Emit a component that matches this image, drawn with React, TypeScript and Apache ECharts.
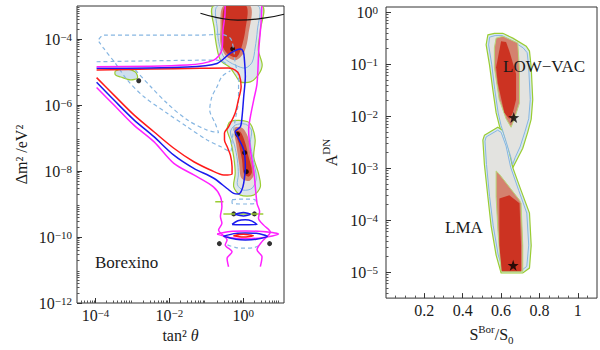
import React, { useEffect, useRef } from 'react';
import * as echarts from 'echarts';

// ---------- Left panel (values are log10): x = log10(tan²θ), y = log10(Δm²/eV²)
const leftXLabels = [-4, -2, 0];
const leftYLabels = [-12, -10, -8, -6, -4];

const redContour = [[-3.97,-5.17],[-3.5,-5.7],[-2.96,-6.3],[-2.42,-6.81],[-1.88,-7.31],[-1.34,-7.72],[-0.89,-7.97],[-0.53,-8.12],[-0.305,-8.09],[-0.305,-7.87],[-0.35,-7.52],[-0.44,-7.26],[-0.51,-7.06],[-0.51,-6.85],[-0.405,-6.67],[-0.22,-6.24],[-0.135,-5.85],[-0.06,-5.44],[-0.11,-5.09],[-0.22,-4.94],[-0.405,-4.88],[-1.16,-4.89],[-2.51,-4.91],[-3.97,-4.94]];
const blueContour = [[-3.97,-5.31],[-3.5,-5.85],[-2.96,-6.45],[-2.42,-6.96],[-1.88,-7.52],[-1.34,-7.92],[-0.8,-8.22],[-0.44,-8.53],[-0.26,-8.68],[-0.13,-8.7],[-0.05,-8.6],[0.01,-8.37],[0.054,-7.87],[0.01,-7.36],[-0.154,-6.96],[-0.22,-6.81],[-0.08,-6.66],[-0.035,-6.36],[0.01,-5.75],[0.054,-5.14],[0.03,-4.64],[0,-4.39],[-0.08,-4.3],[-0.35,-4.43],[-0.71,-4.74],[-1.52,-4.85],[-3.97,-4.89]];
const magentaTop = [[-0.49,-3.0],[-0.5,-3.3],[-0.55,-3.73],[-0.58,-4.33],[-0.8,-4.64],[-1.52,-4.79],[-3.97,-4.84]];
const magentaLower = [[-3.97,-5.47],[-3.5,-6.0],[-2.96,-6.61],[-2.42,-7.11],[-1.88,-7.77],[-1.34,-8.12],[-0.81,-8.48],[-0.62,-8.78],[-0.58,-9.08],[-0.62,-9.38],[-0.58,-9.58],[-0.67,-9.79],[-0.44,-10.09],[-0.49,-10.24],[-0.305,-10.45],[-0.44,-10.65],[-0.4,-10.9]];
const magentaRight = [[0.5,-3.0],[0.48,-3.5],[0.42,-4.3],[0.37,-5.35],[0.28,-5.85],[0.19,-6.36],[0.143,-6.76],[0.19,-7.36],[0.28,-7.97],[0.37,-8.98],[0.44,-9.23],[0.41,-9.43],[0.55,-9.64],[0.73,-9.85],[0.505,-10.14],[0.37,-10.39],[0.505,-10.6],[0.46,-10.9]];
const magentaRing = [[-0.71,-9.91],[-0.35,-9.83],[0.054,-9.82],[0.51,-9.83],[0.95,-9.91],[0.51,-10.02],[0.054,-10.05],[-0.35,-10.02],[-0.71,-9.91]];
const blueRing1 = [[-0.54,-9.98],[-0.2,-9.89],[0.054,-9.88],[0.35,-9.89],[0.65,-9.98],[0.35,-10.07],[0.054,-10.09],[-0.2,-10.07],[-0.54,-9.98]];
const blueRing2 = [[-0.305,-9.62],[-0.15,-9.51],[0.054,-9.48],[0.22,-9.51],[0.37,-9.62],[0.054,-9.63],[-0.305,-9.62]];
const blueRing3 = [[-0.22,-9.31],[0,-9.26],[0.19,-9.31],[0,-9.36],[-0.22,-9.31]];
const redRing = [[-0.27,-9.96],[0,-9.92],[0.27,-9.96],[0,-10.0],[-0.27,-9.96]];
const dashedOuter = [[-3.91,-4.01],[-3.78,-3.88],[-2.51,-3.88],[-1.16,-3.88],[-0.62,-3.86],[-0.35,-3.98],[-0.26,-4.33],[-0.22,-4.74],[-0.13,-5.14],[-0.13,-5.85],[-0.22,-6.45],[-0.305,-7.06],[-0.35,-7.41],[-0.62,-7.26],[-0.98,-7.06],[-1.52,-6.66],[-2.06,-6.25],[-2.69,-5.75],[-3.14,-5.24],[-3.46,-4.74],[-3.78,-4.28],[-3.91,-4.08]];
const dashedInner = [[-2.92,-4.94],[-2.51,-5.44],[-2.06,-5.95],[-1.52,-6.45],[-0.98,-6.76],[-0.67,-6.84],[-0.76,-6.56],[-0.91,-6.15],[-0.85,-5.75],[-0.71,-5.44],[-0.58,-5.14],[-0.35,-4.96]];
const dashedFlat = [[-3.97,-4.69],[-0.71,-4.64],[-0.44,-4.76]];
const dashedRing = [[-0.305,-8.87],[0,-8.85],[0.32,-8.87],[0.32,-8.98],[0,-9.0],[-0.305,-8.98],[-0.305,-8.87]];
const dashedBottom = [[-0.43,-10.24],[-0.2,-10.32],[0.054,-10.34],[0.3,-10.32],[0.46,-10.24]];
const greenBar1 = [[-0.54,-9.3],[0.54,-9.3]];
const greenBar2 = [[-0.76,-8.93],[-0.54,-8.93]];
const blackArc = [[-1.16,-3.22],[-0.71,-3.35],[-0.15,-3.43],[0.55,-3.37],[1.1,-3.25]];
const bestFitDots = [[-0.289,-4.303],[-2.83,-5.264],[-0.154,-6.888],[0.035,-7.445],[0.081,-8.021],[-0.26,-9.3],[0.3,-9.3],[-0.649,-10.2],[0.711,-10.2]];

const upperOuter = [[-0.81,-3.0],[-0.78,-3.73],[-0.73,-4.18],[-0.62,-4.64],[-0.35,-4.88],[-0.22,-5.09],[-0.08,-5.3],[0.19,-5.3],[0.405,-5.09],[0.51,-4.79],[0.405,-4.33],[0.46,-3.73],[0.51,-3.0]];
const upperGray = [[-0.7,-3.0],[-0.7,-3.73],[-0.65,-4.18],[-0.51,-4.58],[-0.22,-4.79],[0.054,-4.88],[0.24,-4.7],[0.32,-4.27],[0.38,-3.73],[0.405,-3.0]];
const upperSalmon = [[-0.54,-3.0],[-0.62,-3.73],[-0.61,-4.18],[-0.46,-4.52],[-0.19,-4.64],[0.027,-4.39],[0.135,-3.88],[0.19,-3.0]];
const upperRed = [[-0.49,-3.0],[-0.57,-3.73],[-0.57,-4.18],[-0.43,-4.45],[-0.19,-4.55],[-0.054,-4.27],[0.054,-3.73],[0.08,-3.0]];
const lowerOuter = [[-0.35,-6.5],[-0.44,-6.76],[-0.35,-7.06],[-0.26,-7.57],[-0.22,-8.07],[-0.26,-8.48],[-0.08,-8.73],[0.28,-8.73],[0.46,-8.48],[0.41,-8.07],[0.28,-7.57],[0.32,-7.06],[0.235,-6.66],[0.1,-6.5]];
const lowerGray = [[-0.22,-6.61],[-0.35,-6.82],[-0.24,-7.21],[-0.16,-7.67],[-0.135,-8.12],[-0.16,-8.42],[0,-8.58],[0.24,-8.52],[0.35,-8.21],[0.27,-7.67],[0.19,-7.15],[0.22,-6.76],[0.054,-6.58]];
const lowerSalmon = [[-0.24,-6.7],[-0.19,-7.21],[-0.11,-7.82],[-0.054,-8.21],[0.16,-8.3],[0.3,-8.06],[0.19,-7.52],[0.135,-7.0],[-0.027,-6.7]];
const lowerRed = [[-0.22,-6.81],[-0.127,-7.16],[-0.035,-7.67],[0.01,-8.07],[0.143,-8.17],[0.235,-8.02],[0.143,-7.57],[0.054,-7.16],[-0.08,-6.81]];
const smallBlob = [[-3.46,-4.97],[-3.19,-4.91],[-2.92,-5.0],[-2.865,-5.18],[-3.05,-5.24],[-3.32,-5.15],[-3.46,-5.09]];

// ---------- Right panel: x = S^Bor/S0, y = log10(A^DN)
const rightXLabels = [0.2, 0.4, 0.6, 0.8, 1];
const rightYLabels = [-5, -4, -3, -2, -1, 0];
const lowVacOuter = [[0.531,-0.437],[0.565,-0.406],[0.609,-0.406],[0.661,-0.499],[0.731,-0.654],[0.748,-0.748],[0.757,-1.06],[0.765,-1.682],[0.757,-2.056],[0.739,-2.307],[0.713,-2.617],[0.687,-2.804],[0.661,-2.99],[0.643,-2.804],[0.617,-2.493],[0.591,-2.181],[0.574,-1.933],[0.557,-1.495],[0.539,-0.998],[0.522,-0.624]];
const lowVacInner = [[0.54,-0.48],[0.569,-0.45],[0.605,-0.45],[0.652,-0.54],[0.715,-0.686],[0.736,-0.78],[0.744,-1.06],[0.752,-1.68],[0.744,-2.05],[0.725,-2.29],[0.699,-2.59],[0.673,-2.8],[0.66,-2.93],[0.65,-2.78],[0.627,-2.5],[0.6,-2.18],[0.585,-1.94],[0.567,-1.49],[0.551,-1.0],[0.535,-0.63]];
const lowVacSalmon = [[0.574,-0.499],[0.61,-0.462],[0.687,-0.593],[0.696,-1.116],[0.696,-1.746],[0.669,-2.056],[0.652,-2.213],[0.626,-2.05],[0.59,-1.677],[0.565,-1.06],[0.565,-0.686]];
const lowVacRed = [[0.574,-1.06],[0.6,-0.561],[0.626,-0.574],[0.643,-0.748],[0.678,-1.185],[0.678,-1.682],[0.661,-1.933],[0.643,-2.056],[0.617,-1.933],[0.583,-1.372]];
const lmaOuter = [[0.513,-2.368],[0.583,-2.213],[0.609,-2.275],[0.635,-2.555],[0.661,-2.99],[0.704,-3.428],[0.748,-3.864],[0.757,-4.486],[0.748,-4.923],[0.713,-5.017],[0.6,-5.017],[0.574,-4.673],[0.548,-4.112],[0.531,-3.551],[0.513,-2.929],[0.505,-2.462]];
const lmaInner = [[0.522,-2.4],[0.582,-2.27],[0.6,-2.31],[0.626,-2.575],[0.65,-2.985],[0.692,-3.43],[0.734,-3.864],[0.744,-4.48],[0.734,-4.89],[0.704,-4.975],[0.612,-4.975],[0.585,-4.67],[0.559,-4.11],[0.54,-3.546],[0.524,-2.93],[0.516,-2.48]];
const lmaSalmon = [[0.574,-3.054],[0.591,-3.116],[0.696,-3.615],[0.704,-3.677],[0.713,-4.486],[0.713,-4.985],[0.6,-4.985],[0.583,-4.176],[0.574,-3.551]];
const lmaRed = [[0.591,-3.583],[0.643,-3.521],[0.696,-3.677],[0.704,-4.486],[0.704,-4.985],[0.604,-4.985],[0.591,-4.486]];
const stars = [[0.666,-2.026],[0.663,-4.87]];

const FONT = 'Liberation Serif';
const TXT = '#1a1a1a';
const STAR = 'path://M0,-10L2.35,-3.24L9.51,-3.09L3.8,1.24L5.88,8.09L0,4L-5.88,8.09L-3.8,1.24L-9.51,-3.09L-2.35,-3.24Z';

function logMinor(from: number, to: number) {
  const out: number[] = [];
  for (let n = Math.floor(from); n < to; n++) {
    for (let k = 2; k <= 9; k++) {
      const v = n + Math.log10(k);
      if (v > from && v < to) out.push(v);
    }
  }
  return out;
}

const powRich = {
  b: { fontSize: 16, fontFamily: FONT, color: TXT, lineHeight: 16, verticalAlign: 'bottom', padding: [4, 0, 0, 0] },
  s: { fontSize: 11, fontFamily: FONT, color: TXT, lineHeight: 11, verticalAlign: 'top' },
};
const powFmt = (v: number) => {
  const r = Math.round(v);
  return '{b|10}{s|' + (r < 0 ? '\u2212' + -r : String(r)) + '}';
};

function poly(pts: number[][], gi: number, style: any, smooth = 0) {
  return {
    type: 'custom', xAxisIndex: gi * 2, yAxisIndex: gi * 2, clip: true, silent: true,
    data: pts,
    renderItem: (params: any, api: any) => {
      if (params.dataIndex !== 0) return null;
      return { type: 'polygon', shape: { points: pts.map((p) => api.coord(p)), smooth }, style };
    },
  };
}
function line(pts: number[][], color: string, width: number, dashed = false, smooth = 0.3) {
  return {
    type: 'line', xAxisIndex: 0, yAxisIndex: 0, data: pts, symbol: 'none', smooth, silent: true, clip: true,
    lineStyle: { color, width, type: dashed ? [4, 3] : 'solid' },
  };
}

function mainAxis(gi: number, min: number, max: number, labels: number[], isX: boolean, fmt: any, extra: any) {
  return {
    type: 'value', gridIndex: gi, min, max,
    position: isX ? 'bottom' : 'left',
    axisLine: { show: false, onZero: false }, splitLine: { show: false },
    axisTick: { show: true, inside: true, length: 5, customValues: labels, lineStyle: { color: '#333' } },
    axisLabel: { customValues: labels, formatter: fmt, rich: powRich, color: TXT, fontFamily: FONT, fontSize: 16, margin: isX ? 4 : 5 },
    ...extra,
  };
}
function minorAxis(gi: number, min: number, max: number, ticks: number[], isX: boolean) {
  return {
    type: 'value', gridIndex: gi, min, max, position: isX ? 'bottom' : 'left',
    axisLine: { show: false, onZero: false }, splitLine: { show: false }, axisLabel: { show: false },
    axisTick: { show: true, inside: true, length: 2.5, customValues: ticks, lineStyle: { color: '#555' } },
  };
}

export default function App() {
  const ref = useRef<HTMLDivElement>(null);
  useEffect(() => {
    document.body.style.margin = '0';
    const chart = echarts.init(ref.current!, undefined, { renderer: 'svg' });
    const green = '#9acd32';
    const lblue = '#86b6e2';
    const grayFill = '#e3e3e0';
    const salmon = '#d4826f';
    const red = '#cc3322';
    const rightMinorX: number[] = [];
    for (let i = 1; i < 22; i++) { const v = i * 0.05; if (Math.abs(v * 5 - Math.round(v * 5)) > 1e-6) rightMinorX.push(v); }
    const option: any = {
      animation: false,
      textStyle: { fontFamily: FONT },
      grid: [
        { left: 77, right: 316, top: 6, bottom: 47, show: true, borderColor: '#333', borderWidth: 1, backgroundColor: 'transparent' },
        { left: 386, right: 3, top: 7, bottom: 42, show: true, borderColor: '#333', borderWidth: 1, backgroundColor: 'transparent' },
      ],
      xAxis: [
        mainAxis(0, -4.5, 1.1, leftXLabels, true, powFmt, {
          name: 'tan\u00b2 {i|\u03b8}', nameLocation: 'middle', nameGap: 18,
          nameTextStyle: { fontFamily: FONT, fontSize: 16, color: TXT, rich: { i: { fontStyle: 'italic', fontFamily: FONT, fontSize: 16, color: TXT } } },
        }),
        minorAxis(0, -4.5, 1.1, logMinor(-4.5, 1.1), true),
        mainAxis(1, 0, 1.1, rightXLabels, true, (v: number) => String(Number(v.toFixed(1))), {
          axisLabel: { customValues: rightXLabels, formatter: (v: number) => String(Number(v.toFixed(1))), color: TXT, fontFamily: FONT, fontSize: 16, margin: 4 },
          name: 'S{s|Bor}/S{d|0}', nameLocation: 'middle', nameGap: 17,
          nameTextStyle: { fontFamily: FONT, fontSize: 16, color: TXT, lineHeight: 22, rich: {
            s: { fontSize: 11, fontFamily: FONT, color: TXT, lineHeight: 11, verticalAlign: 'top' },
            d: { fontSize: 11, fontFamily: FONT, color: TXT, lineHeight: 11, verticalAlign: 'bottom' } } },
        }),
        minorAxis(1, 0, 1.1, rightMinorX, true),
      ],
      yAxis: [
        mainAxis(0, -12, -3, leftYLabels, false, powFmt, {
          name: '\u0394m\u00b2 /eV\u00b2', nameLocation: 'middle', nameGap: 48,
          nameTextStyle: { fontFamily: FONT, fontSize: 16, color: TXT },
        }),
        minorAxis(0, -12, -3, logMinor(-12, -3), false),
        mainAxis(1, -5.5, 0.1, rightYLabels, false, powFmt, {
          axisLabel: { customValues: rightYLabels, formatter: powFmt, rich: powRich, color: TXT, fontFamily: FONT, fontSize: 16, margin: 8 },
          name: 'A{s|DN}', nameLocation: 'middle', nameGap: 44,
          nameTextStyle: { fontFamily: FONT, fontSize: 16, color: TXT, lineHeight: 22, rich: {
            s: { fontSize: 11, fontFamily: FONT, color: TXT, lineHeight: 11, verticalAlign: 'top' } } },
        }),
        minorAxis(1, -5.5, 0.1, logMinor(-5.5, 0.1), false),
      ],
      series: [
        // left bands
        poly(upperOuter, 0, { fill: '#dde6ec', stroke: green, lineWidth: 1.2 }, 0.3),
        poly(upperGray, 0, { fill: grayFill, stroke: lblue, lineWidth: 1 }, 0.3),
        poly(upperSalmon, 0, { fill: salmon }, 0.3),
        poly(upperRed, 0, { fill: red }, 0.3),
        poly(lowerOuter, 0, { fill: '#dde6ec', stroke: green, lineWidth: 1.2 }, 0.3),
        poly(lowerGray, 0, { fill: grayFill, stroke: lblue, lineWidth: 1 }, 0.3),
        poly(lowerSalmon, 0, { fill: salmon }, 0.3),
        poly(lowerRed, 0, { fill: red }, 0.3),
        poly(smallBlob, 0, { fill: '#cfe0ee', stroke: green, lineWidth: 1.2 }, 0.3),
        line(dashedOuter, lblue, 1.2, true),
        line(dashedInner, lblue, 1.2, true),
        line(dashedFlat, lblue, 1.2, true),
        line(dashedRing, lblue, 1.2, true),
        line(dashedBottom, lblue, 1.2, true),
        line(greenBar1, green, 1.5, false, 0),
        line(greenBar2, green, 1.5, false, 0),
        line(redContour, '#ff1a1a', 1.5),
        line(blueContour, '#1a1aee', 1.5),
        line(magentaTop, '#ff22ff', 1.5),
        line(magentaLower, '#ff22ff', 1.5),
        line(magentaRight, '#ff22ff', 1.5),
        line(magentaRing, '#ff22ff', 1.5),
        line(blueRing1, '#1a1aee', 1.5),
        line(blueRing2, '#1a1aee', 1.5),
        line(blueRing3, '#1a1aee', 1.5),
        line(redRing, '#ff1a1a', 1.5),
        line(blackArc, '#111', 1.2, false, 0.5),
        { type: 'scatter', xAxisIndex: 0, yAxisIndex: 0, data: bestFitDots, symbol: 'circle', symbolSize: 5, itemStyle: { color: '#000' }, silent: true },
        // right regions
        poly(lowVacOuter, 1, { fill: '#d6e6f0', stroke: green, lineWidth: 1.2 }),
        poly(lmaOuter, 1, { fill: '#d6e6f0', stroke: green, lineWidth: 1.2 }),
        poly(lowVacInner, 1, { fill: grayFill, stroke: lblue, lineWidth: 1 }),
        poly(lmaInner, 1, { fill: grayFill, stroke: lblue, lineWidth: 1 }),
        poly(lowVacSalmon, 1, { fill: salmon, stroke: '#b9d77a', lineWidth: 1 }),
        poly(lmaSalmon, 1, { fill: salmon, stroke: '#b9d77a', lineWidth: 1 }),
        poly(lowVacRed, 1, { fill: red }),
        poly(lmaRed, 1, { fill: red }),
        { type: 'scatter', xAxisIndex: 2, yAxisIndex: 2, data: stars, symbol: STAR, symbolSize: 11, itemStyle: { color: '#000' }, silent: true },
      ],
      graphic: [
        { type: 'text', left: 95, top: 254, z: 100, silent: true, style: { text: 'Borexino', fontFamily: FONT, fontSize: 17, fill: TXT } },
        { type: 'text', left: 503, top: 58, z: 100, silent: true, style: { text: 'LOW\u2212VAC', fontFamily: FONT, fontSize: 17, fill: TXT } },
        { type: 'text', left: 445, top: 219, z: 100, silent: true, style: { text: 'LMA', fontFamily: FONT, fontSize: 17, fill: TXT } },
      ],
    };
    chart.setOption(option);
    return () => chart.dispose();
  }, []);
  return <div ref={ref} style={{ width: 600, height: 350 }} />;
}
